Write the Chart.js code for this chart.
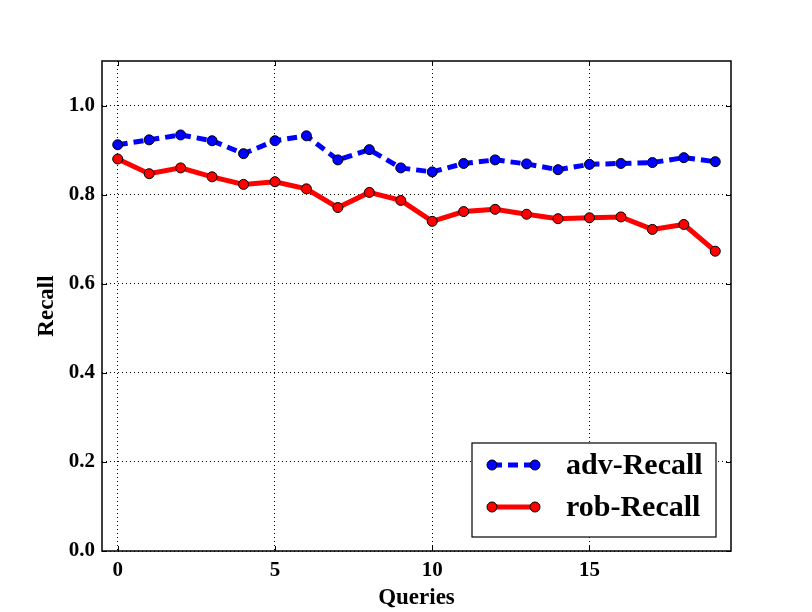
<!DOCTYPE html>
<html><head><meta charset="utf-8">
<script src="https://cdn.jsdelivr.net/npm/chart.js@4/dist/chart.umd.min.js"></script>
<style>html,body{margin:0;padding:0;background:#fff}#wrap{width:812px;height:612px}</style>
</head><body><div id="wrap"><canvas id="c" width="812" height="612"></canvas></div>
<script>
const queries = [0,1,2,3,4,5,6,7,8,9,10,11,12,13,14,15,16,17,18,19];
const advRecall = [0.912,0.923,0.934,0.921,0.892,0.921,0.932,0.878,0.901,0.860,0.851,0.870,0.878,0.869,0.856,0.868,0.870,0.872,0.883,0.874];
const robRecall = [0.880,0.847,0.860,0.840,0.823,0.829,0.813,0.771,0.805,0.787,0.740,0.762,0.767,0.756,0.746,0.748,0.750,0.722,0.733,0.673];
const xTicks = [0,5,10,15];
const yTicks = [0.0,0.2,0.4,0.6,0.8,1.0];
const seriesNames = ['adv-Recall','rob-Recall'];

const FONT = '"Liberation Serif", "DejaVu Serif", serif';

const framePlugin = {
  id:'frame',
  afterDraw(chart){
    const {ctx, chartArea:a, scales:{x,y}} = chart;
    ctx.save();
    ctx.strokeStyle='#000';
    ctx.lineWidth=1;
    const L=5;
    ctx.beginPath();
    xTicks.forEach(v=>{const px=Math.round(x.getPixelForValue(v))+0.5;
      ctx.moveTo(px,a.bottom);ctx.lineTo(px,a.bottom-L);
      ctx.moveTo(px,a.top);ctx.lineTo(px,a.top+L);});
    yTicks.forEach(v=>{const py=Math.round(y.getPixelForValue(v))+0.5;
      ctx.moveTo(a.left,py);ctx.lineTo(a.left+L,py);
      ctx.moveTo(a.right,py);ctx.lineTo(a.right-L,py);});
    ctx.stroke();
    ctx.lineWidth=1.5;
    ctx.strokeRect(a.left,a.top,a.right-a.left,a.bottom-a.top);
    // legend
    const bx=472, by=443, bw=244, bh=94;
    ctx.fillStyle='#fff';
    ctx.fillRect(bx,by,bw,bh);
    ctx.lineWidth=1.2;
    ctx.strokeRect(bx,by,bw,bh);
    const rows=[465,507];
    chart.data.datasets.forEach((ds,i)=>{
      const ry=rows[i];
      ctx.save();
      ctx.strokeStyle=ds.borderColor;
      ctx.lineWidth=ds.borderWidth;
      ctx.setLineDash(ds.borderDash||[]);
      ctx.beginPath();ctx.moveTo(492,ry);ctx.lineTo(535,ry);ctx.stroke();
      ctx.restore();
      [492,535].forEach(cx=>{
        ctx.beginPath();ctx.arc(cx,ry,ds.pointRadius,0,Math.PI*2);
        ctx.fillStyle=ds.pointBackgroundColor;ctx.fill();
        ctx.lineWidth=1;ctx.strokeStyle='#000';ctx.stroke();
      });
      ctx.fillStyle='#000';
      ctx.font='bold 30px '+FONT;
      ctx.textBaseline='middle';
      ctx.textAlign='left';
      ctx.fillText(ds.label,566,ry+1);
    });
    ctx.restore();
  }
};

new Chart(document.getElementById('c'),{
  type:'line',
  data:{datasets:[
    {label:seriesNames[0],data:queries.map((q,i)=>({x:q,y:advRecall[i]})),
     borderColor:'#0000ff',borderWidth:5,borderDash:[10,6],
     pointRadius:5,pointBackgroundColor:'#0000ff',pointBorderColor:'#000',pointBorderWidth:1,
     pointHoverRadius:5,tension:0},
    {label:seriesNames[1],data:queries.map((q,i)=>({x:q,y:robRecall[i]})),
     borderColor:'#ff0000',borderWidth:5,
     pointRadius:5,pointBackgroundColor:'#ff0000',pointBorderColor:'#000',pointBorderWidth:1,
     pointHoverRadius:5,tension:0}
  ]},
  options:{
    responsive:false,animation:false,devicePixelRatio:1,
    layout:{padding:{top:61,right:81,left:0,bottom:0}},
    plugins:{legend:{display:false},tooltip:{enabled:false}},
    scales:{
      x:{type:'linear',min:-0.5,max:19.5,
        afterBuildTicks(s){s.ticks=xTicks.map(v=>({value:v}));},
        afterFit(s){s.height=61;},
        grid:{color:'#000',lineWidth:1,drawTicks:false},
        border:{display:false,dash:[1,3]},
        ticks:{color:'#000',padding:7,font:{family:FONT,size:21,weight:'bold'},callback:v=>String(v)},
        title:{display:true,text:'Queries',color:'#000',font:{family:FONT,size:23,weight:'bold'},padding:{top:2,bottom:0}}
      },
      y:{type:'linear',min:0,max:1.1,
        afterBuildTicks(s){s.ticks=yTicks.map(v=>({value:v}));},
        afterFit(s){s.width=102;},
        grid:{color:'#000',lineWidth:1,drawTicks:false},
        border:{display:false,dash:[1,3]},
        ticks:{color:'#000',padding:7,font:{family:FONT,size:21,weight:'bold'},callback:v=>Number(v).toFixed(1)},
        title:{display:true,text:'Recall',color:'#000',font:{family:FONT,size:23,weight:'bold'},padding:{top:33,bottom:0}}
      }
    }
  },
  plugins:[framePlugin]
});
</script></body></html>
